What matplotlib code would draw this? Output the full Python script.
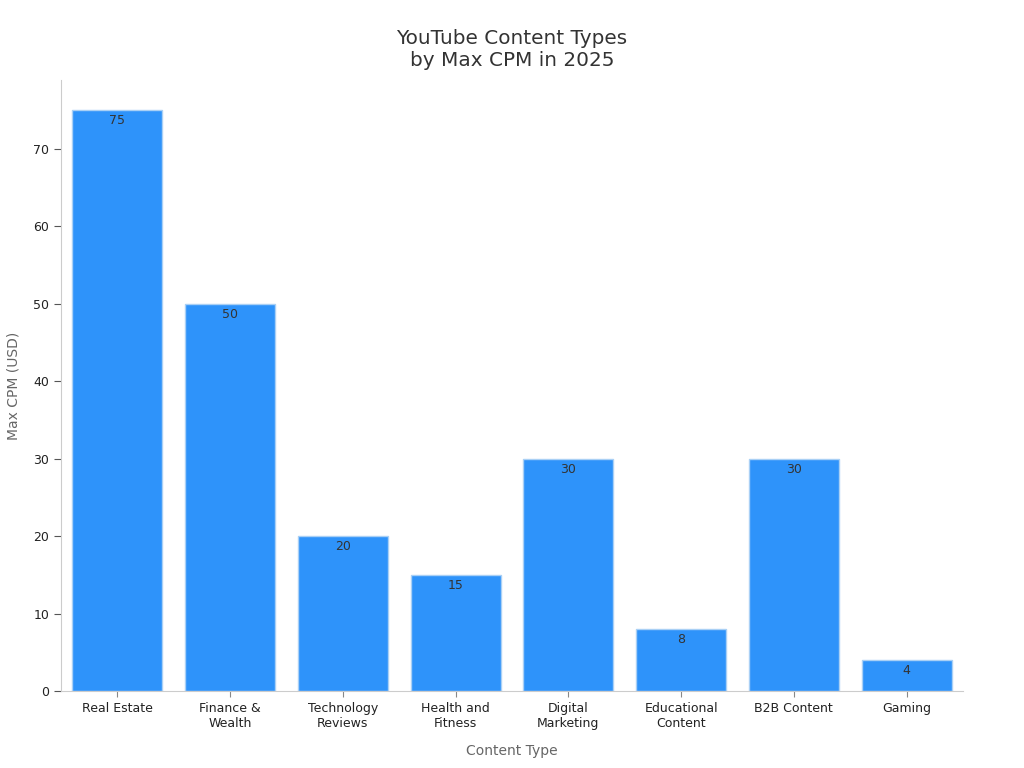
import matplotlib.pyplot as plt
import numpy as np

categories = ['Real Estate', 'Finance &\nWealth', 'Technology\nReviews', 'Health and\nFitness',
              'Digital\nMarketing', 'Educational\nContent', 'B2B Content', 'Gaming']
max_cpm = [75, 50, 20, 15, 30, 8, 30, 4]

fig = plt.figure(figsize=(10.24, 7.68), dpi=100)
ax = fig.add_axes([0.0596, 0.1003, 0.8808, 0.7955])

x = np.arange(len(categories))
bars = ax.bar(x, max_cpm, width=0.8, color='#2E93FA', edgecolor='#A9D0F5', linewidth=1)

for xi, v in zip(x, max_cpm):
    ax.annotate(str(v), (xi, v), xytext=(0, -3), textcoords='offset points',
                ha='center', va='top', fontsize=9, color='#333333')

ax.set_xlim(-0.5, 7.5)
ax.set_ylim(0, 78.9)
ax.set_xticks(x)
ax.set_xticklabels(categories, fontsize=9, color='#222222')
ax.set_yticks([0, 10, 20, 30, 40, 50, 60, 70])
ax.tick_params(axis='y', labelsize=9, labelcolor='#222222', color='#555555', length=5)
ax.tick_params(axis='x', color='#888888', length=4, pad=4)

for s in ['top', 'right']:
    ax.spines[s].set_visible(False)
for s in ['left', 'bottom']:
    ax.spines[s].set_color('#cccccc')

ax.set_xlabel('Content Type', fontsize=10, color='#666666', labelpad=10)
ax.set_ylabel('Max CPM (USD)', fontsize=10, color='#666666', labelpad=9)
ax.set_title('YouTube Content Types\nby Max CPM in 2025', fontsize=14.4, color='#333333', pad=10)

fig.savefig('out.png', dpi=100)
